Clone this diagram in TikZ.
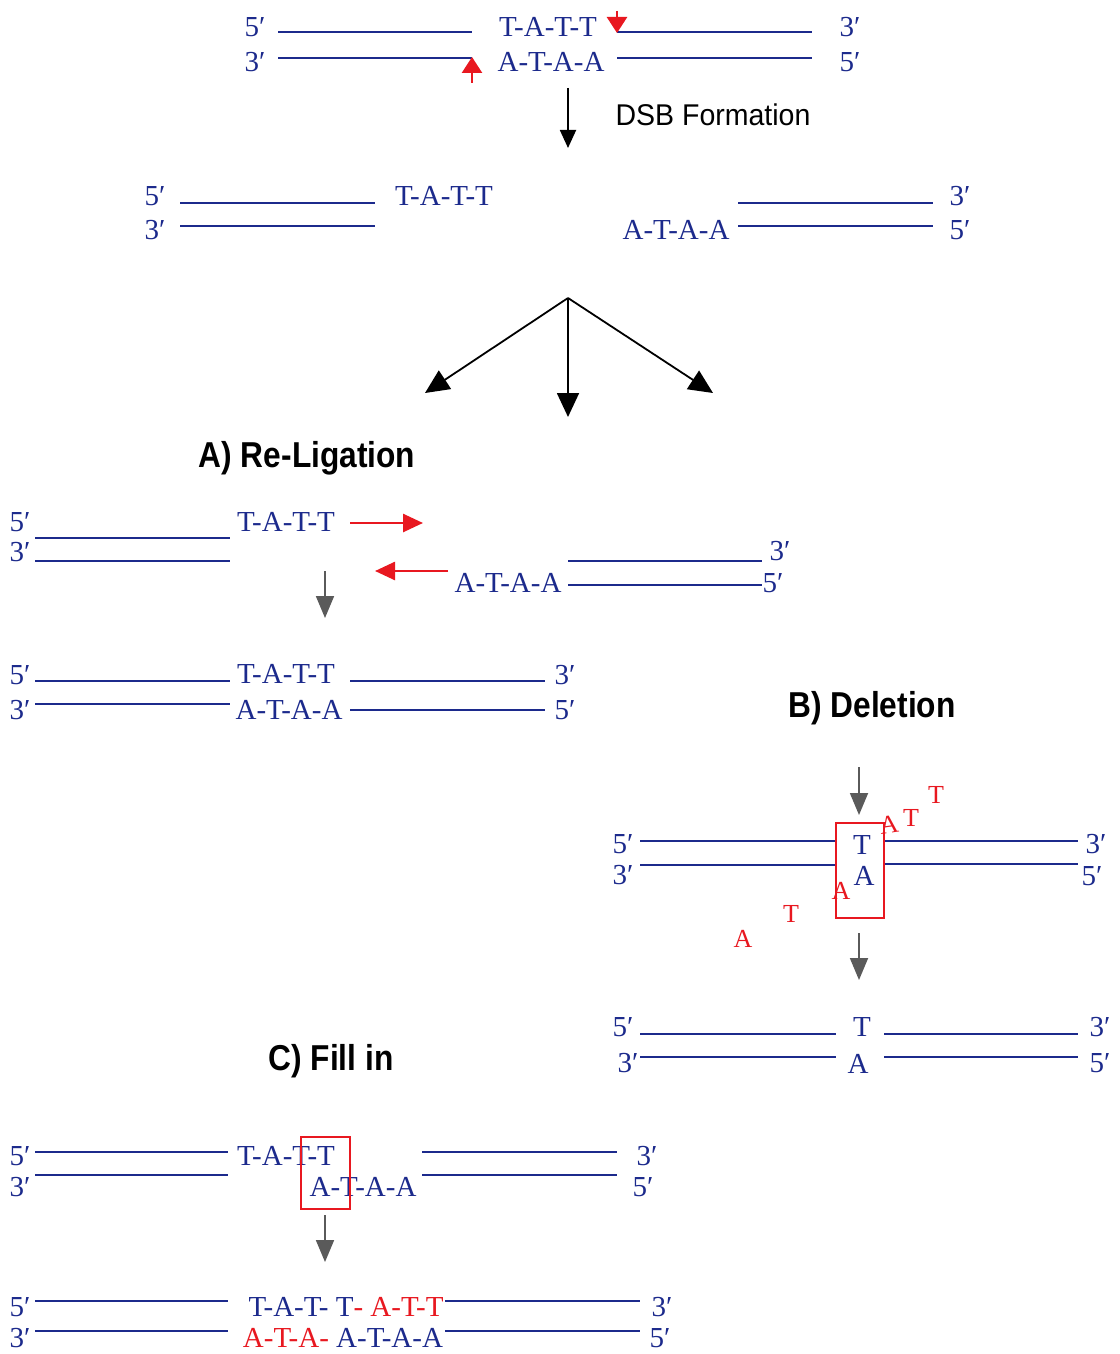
\documentclass[tikz,border=0pt]{standalone}
\usepackage{fontspec}
\setmainfont{Liberation Serif}
\newfontfamily\headfont{Liberation Sans}
\usetikzlibrary{arrows.meta}
\definecolor{dnablue}{RGB}{28,42,140}
\definecolor{cutred}{RGB}{232,24,32}
\definecolor{arrgray}{RGB}{90,90,90}
\begin{document}
\begin{tikzpicture}[x=0.5pt,y=-0.5pt,
  seq/.style={text=dnablue, font=\fontsize{14.5}{16}\selectfont, inner sep=0pt},
  strand/.style={draw=dnablue, line width=1.35pt},
  heading/.style={font=\headfont\bfseries\fontsize{18}{20}\selectfont, inner sep=0pt},
  redl/.style={text=cutred, font=\fontsize{13}{15}\selectfont, inner sep=0pt},
  grayarrow/.style={draw=arrgray, line width=0.9pt, -{Triangle[length=11pt,width=9pt,fill=arrgray]}},
  blackarrow/.style={draw=black, line width=0.9pt, -{Triangle[length=12pt,width=11pt]}},
  redarrow/.style={draw=cutred, line width=1.3pt, -{Triangle[length=10pt,width=9pt]}},
  cutarrow/.style={draw=cutred, line width=1.3pt, -{Triangle[length=8pt,width=10pt]}},
  redbox/.style={draw=cutred, line width=1pt}]
\useasboundingbox[fill=white] (0,0) rectangle (1119,1354);

% ---------- top: intact DNA ----------
\node[seq] (t5a) at (255,27) {5′};
\node[seq] (t3a) at (255,62) {3′};
\node[seq] (tseq1) at (548,27) {T-A-T-T};
\node[seq] (tseq2) at (551,62) {A-T-A-A};
\node[seq] (t3b) at (850,27) {3′};
\node[seq] (t5b) at (850,62) {5′};
\draw[strand] (278,32) -- (472,32);
\draw[strand] (617,32) -- (812,32);
\draw[strand] (278,58) -- (472,58);
\draw[strand] (617,58) -- (812,58);
\coordinate (cutAs) at (617,11); \coordinate (cutAe) at (617,33);
\coordinate (cutBs) at (472,83); \coordinate (cutBe) at (472,57);
\draw[cutarrow] (cutAs) -- (cutAe);
\draw[cutarrow] (cutBs) -- (cutBe);

% DSB arrow
\coordinate (dsbA) at (568,88); \coordinate (dsbB) at (568,148);
\draw[draw=black, line width=0.9pt, -{Triangle[length=9pt,width=8pt]}] (dsbA) -- (dsbB);
\node[font=\headfont\fontsize{15}{17}\selectfont, inner sep=0pt] (dsbl) at (713,115) {\scalebox{0.95}[1]{DSB Formation}};

% ---------- broken DNA ----------
\node[seq] (b5a) at (155,196) {5′};
\node[seq] (b3a) at (155,230) {3′};
\draw[strand] (180,203) -- (375,203);
\draw[strand] (180,226) -- (375,226);
\node[seq] (bseq1) at (444,196) {T-A-T-T};
\node[seq] (bseq2) at (676,230) {A-T-A-A};
\draw[strand] (738,203) -- (933,203);
\draw[strand] (738,226) -- (933,226);
\node[seq] (b3b) at (960,196) {3′};
\node[seq] (b5b) at (960,230) {5′};

% fork
\coordinate (fork) at (568,298);
\coordinate (forkL) at (425,393);
\coordinate (forkM) at (568,417);
\coordinate (forkR) at (713,393);
\draw[blackarrow] (fork) -- (forkL);
\draw[blackarrow] (fork) -- (forkM);
\draw[blackarrow] (fork) -- (forkR);

% ---------- A) Re-Ligation ----------
\node[heading] (hA) at (307,458) {\scalebox{0.88}[1]{A) Re-Ligation}};
\node[seq] (r5a) at (20,522) {5′};
\node[seq] (r3a) at (20,552) {3′};
\draw[strand] (35,538) -- (230,538);
\draw[strand] (35,561) -- (230,561);
\node[seq] (rseq1) at (286,522) {T-A-T-T};
\coordinate (ra1) at (350,523); \coordinate (ra2) at (423,523);
\draw[redarrow] (ra1) -- (ra2);
\coordinate (rb1) at (448,571); \coordinate (rb2) at (375,571);
\draw[redarrow] (rb1) -- (rb2);
\node[seq] (rseq2) at (508,583) {A-T-A-A};
\draw[strand] (568,561) -- (762,561);
\draw[strand] (568,585) -- (762,585);
\node[seq] (r3b) at (780,551) {3′};
\node[seq] (r5b) at (773,583) {5′};
\coordinate (rg1) at (325,571); \coordinate (rg2) at (325,618);
\draw[grayarrow] (rg1) -- (rg2);
\node[seq] (rr5a) at (20,675) {5′};
\draw[strand] (35,681) -- (230,681);
\node[seq] (rrseq1) at (286,674) {T-A-T-T};
\draw[strand] (350,681) -- (545,681);
\node[seq] (rr3b) at (565,675) {3′};
\node[seq] (rr3a) at (20,710) {3′};
\draw[strand] (35,704) -- (230,704);
\node[seq] (rrseq2) at (289,710) {A-T-A-A};
\draw[strand] (350,710) -- (545,710);
\node[seq] (rr5b) at (565,710) {5′};

% ---------- B) Deletion ----------
\node[heading] (hB) at (872,708) {\scalebox{0.88}[1]{B) Deletion}};
\coordinate (dg1) at (859,767); \coordinate (dg2) at (859,815);
\draw[grayarrow] (dg1) -- (dg2);
\node[seq] (d5a) at (623,844) {5′};
\draw[strand] (640,841) -- (836,841);
\node[seq] (dT) at (862,845) {T};
\draw[strand] (885,841) -- (1078,841);
\node[seq] (d3b) at (1096,844) {3′};
\node[seq] (d3a) at (623,875) {3′};
\draw[strand] (640,865) -- (836,865);
\node[seq] (dA) at (864,876) {A};
\draw[strand] (885,864) -- (1078,864);
\node[seq] (d5b) at (1092,876) {5′};
\draw[redbox] (836,823) rectangle (884,918);
\node[redl, rotate=8] (x1) at (889,825) {A};
\node[redl] (x2) at (911,818) {T};
\node[redl] (x3) at (936,795) {T};
\node[redl] (x4) at (841,891) {A};
\node[redl] (x5) at (791,914) {T};
\node[redl] (x6) at (743,939) {A};
\coordinate (dg3) at (859,933); \coordinate (dg4) at (859,980);
\draw[grayarrow] (dg3) -- (dg4);
\node[seq] (dd5a) at (623,1027) {5′};
\draw[strand] (640,1034) -- (836,1034);
\node[seq] (ddT) at (862,1027) {T};
\draw[strand] (884,1034) -- (1078,1034);
\node[seq] (dd3b) at (1100,1027) {3′};
\node[seq] (dd3a) at (628,1063) {3′};
\draw[strand] (640,1057) -- (836,1057);
\node[seq] (ddA) at (858,1064) {A};
\draw[strand] (884,1057) -- (1078,1057);
\node[seq] (dd5b) at (1100,1063) {5′};

% ---------- C) Fill in ----------
\node[heading] (hC) at (331,1061) {\scalebox{0.88}[1]{C) Fill in}};
\node[seq] (f5a) at (20,1156) {5′};
\draw[strand] (35,1152) -- (228,1152);
\node[seq] (fseq1) at (286,1156) {T-A-T-T};
\draw[strand] (422,1152) -- (617,1152);
\node[seq] (f3b) at (647,1156) {3′};
\node[seq] (f3a) at (20,1187) {3′};
\draw[strand] (35,1175) -- (228,1175);
\node[seq] (fseq2) at (363,1187) {A-T-A-A};
\draw[strand] (422,1175) -- (617,1175);
\node[seq] (f5b) at (643,1187) {5′};
\draw[redbox] (301,1137) rectangle (350,1209);
\coordinate (fg1) at (325,1215); \coordinate (fg2) at (325,1262);
\draw[grayarrow] (fg1) -- (fg2);
\node[seq] (ff5a) at (20,1307) {5′};
\draw[strand] (35,1301) -- (228,1301);
\node[seq] (ffseq1) at (346,1307) {T-A-T- T\textcolor{cutred}{- A-T-T}};
\draw[strand] (445,1301) -- (640,1301);
\node[seq] (ff3b) at (662,1307) {3′};
\node[seq] (ff3a) at (20,1338) {3′};
\draw[strand] (35,1331) -- (228,1331);
\node[seq] (ffseq2) at (343,1338) {\textcolor{cutred}{A-T-A-} A-T-A-A};
\draw[strand] (445,1331) -- (640,1331);
\node[seq] (ff5b) at (660,1338) {5′};
\end{tikzpicture}
\end{document}
